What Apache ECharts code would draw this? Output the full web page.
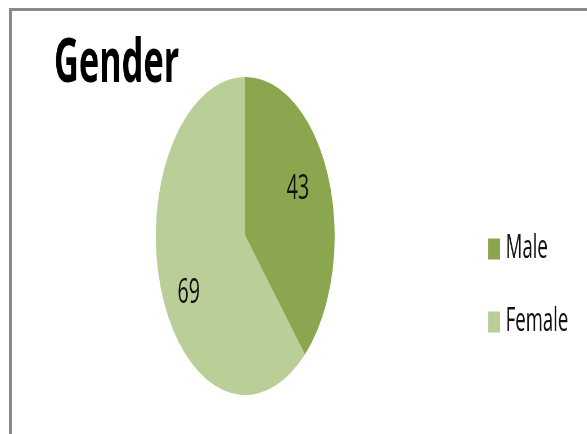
<!DOCTYPE html>
<html>
<head>
<meta charset="utf-8">
<script src="https://cdn.jsdelivr.net/npm/echarts@6/dist/echarts.min.js"></script>
<style>
    html, body {margin: 0; padding: 0; background: #fff; overflow: hidden;
        width: 587px; height: 434px;}
    .edge {position: absolute; background: #8a8a8a;}
    #edgeTop {left: 9px; top: 8px; width: 578px; height: 3px;}
    #edgeLeft {left: 9px; top: 8px; width: 3px; height: 426px;}
    /* the original picture is squeezed sideways, so draw wide and squeeze */
    #main {position: absolute; left: 0; top: 0; width: 1044px; height: 434px;
        transform: scaleX(0.5625); transform-origin: 0 0;}
</style>
</head>
<body>
<div id="main"></div>
<div class="edge" id="edgeTop"></div>
<div class="edge" id="edgeLeft"></div>
<script>
    // 数据
    const categories = ['Male', 'Female'];
    const counts = [43, 69];
    const colors = ['#8aa64f', '#bacf98'];

    const pieData = categories.map((name, i) => ({
        name: name,
        value: counts[i],
        itemStyle: {color: colors[i]}
    }));

    // Excel puts its data labels a bit off the slice bisector
    const labelShift = [[-12, -7], [5, 17]];

    let myChart = echarts.init(document.getElementById('main'));
    myChart.setOption({
        animation: false,
        title: {
            text: 'Gender',
            left: 91,
            top: 29,
            textStyle: {
                fontFamily: 'Open Sans',
                fontWeight: 'bold',
                fontSize: 61,
                color: '#000'
            }
        },
        legend: {
            orient: 'vertical',
            left: 863,
            top: 227,
            itemWidth: 21,
            itemHeight: 21,
            itemGap: 39,
            icon: 'rect',
            data: categories,
            textStyle: {
                fontFamily: 'Open Sans',
                fontSize: 33,
                lineHeight: 34,
                color: '#111',
                padding: [0, 0, 0, 5]
            }
        },
        series: [{
            // slices
            type: 'pie',
            center: [436, 236],
            radius: [0, 159],
            startAngle: 90,
            clockwise: true,
            label: {show: false},
            labelLine: {show: false},
            emphasis: {disabled: true},
            data: pieData
        }, {
            // transparent ring that only carries the value labels
            type: 'pie',
            center: [436, 236],
            radius: [70, 150],
            startAngle: 90,
            clockwise: true,
            silent: true,
            itemStyle: {color: 'transparent'},
            label: {
                show: true,
                position: 'inner',
                formatter: '{c}',
                fontFamily: 'Open Sans',
                fontSize: 35,
                color: '#111'
            },
            labelLine: {show: false},
            data: categories.map((name, i) => ({
                name: name,
                value: counts[i],
                label: {offset: labelShift[i]}
            }))
        }]
    });
</script>
</body>
</html>
